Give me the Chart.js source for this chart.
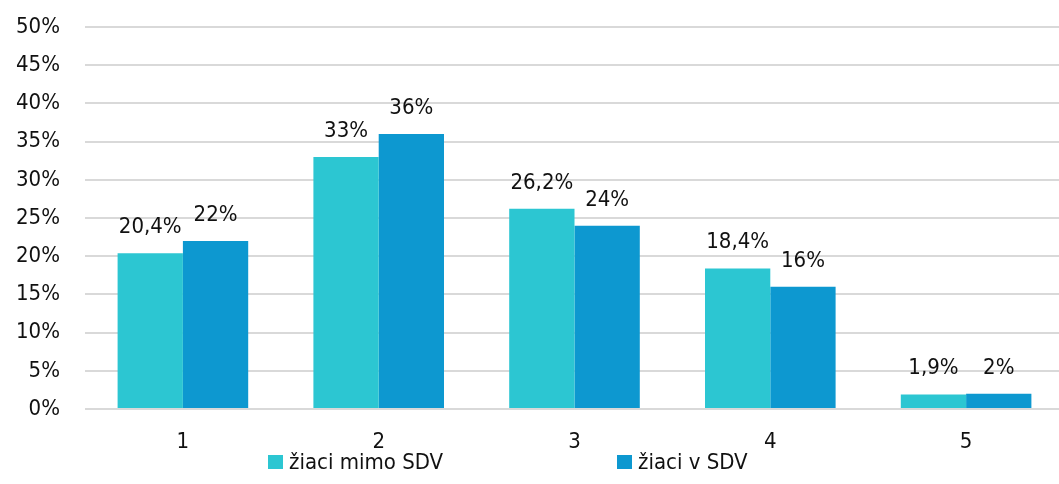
<!DOCTYPE html>
<html>
<head>
<meta charset="utf-8">
<script src="https://cdn.jsdelivr.net/npm/chart.js@4/dist/chart.umd.min.js"></script>
<style>
  html, body { margin: 0; padding: 0; background: #fff; overflow: hidden; }
  #wrap { position: relative; width: 1059px; height: 484px; overflow: hidden; }
  #chart { display: block; }
  #legend {
    position: absolute; left: 0; top: 449px; width: 1059px; height: 30px;
    font-family: "DejaVu Sans Condensed", Roboto, sans-serif;
    font-size: 22px; color: #111;
  }
  .item { position: absolute; top: 0; display: flex; align-items: center; }
  .box { width: 15px; height: 14px; margin-right: 6px; }
</style>
</head>
<body>
<div id="wrap">
  <canvas id="chart" width="1064" height="484"></canvas>
  <div id="legend"></div>
</div>
<script>
const categories = ["1", "2", "3", "4", "5"];
const seriesNames = ["žiaci mimo SDV", "žiaci v SDV"];
const outsideValues = [20.4, 33, 26.2, 18.4, 1.9];
const insideValues = [22, 36, 24, 16, 2];
const colors = ["#2cc6d2", "#0d98d0"];
const yTicks = [0, 5, 10, 15, 20, 25, 30, 35, 40, 45, 50];

const FONT = '"DejaVu Sans Condensed", Roboto, sans-serif';

function fmt(v) {
  return String(v).replace(".", ",") + "%";
}

// value labels above each bar
const valueLabels = {
  id: "valueLabels",
  afterDatasetsDraw(chart) {
    const ctx = chart.ctx;
    ctx.save();
    ctx.font = "22px " + FONT;
    ctx.fillStyle = "#111";
    ctx.textAlign = "center";
    ctx.textBaseline = "alphabetic";
    chart.data.datasets.forEach((ds, i) => {
      chart.getDatasetMeta(i).data.forEach((bar, j) => {
        ctx.fillText(fmt(ds.data[j]), bar.x, bar.y - 20);
      });
    });
    ctx.restore();
  }
};

const chart = new Chart(document.getElementById("chart"), {
  type: "bar",
  data: {
    labels: categories,
    datasets: [
      { label: seriesNames[0], data: outsideValues, backgroundColor: colors[0] },
      { label: seriesNames[1], data: insideValues, backgroundColor: colors[1] }
    ]
  },
  options: {
    responsive: false,
    animation: false,
    datasets: { bar: { categoryPercentage: 0.667, barPercentage: 1 } },
    layout: { padding: { top: 27, right: 0, left: 0, bottom: 13 } },
    plugins: {
      legend: { display: false },
      tooltip: { enabled: false }
    },
    scales: {
      x: {
        grid: { display: false },
        border: { display: false },
        ticks: { color: "#111", font: { family: FONT, size: 22 }, padding: 12 },
        afterFit(axis) { axis.height = 62; }
      },
      y: {
        min: 0,
        max: 50,
        afterBuildTicks(axis) { axis.ticks = yTicks.map(v => ({ value: v })); },
        afterFit(axis) {
          axis.width = 85;
          axis.paddingTop = 0;
          axis.paddingBottom = 0;
        },
        grid: { color: "#d9d9d9", lineWidth: 2, drawTicks: false },
        border: { display: false },
        ticks: {
          color: "#111",
          font: { family: FONT, size: 22 },
          padding: 25,
          callback: v => v + "%"
        }
      }
    }
  },
  plugins: [valueLabels]
});

// legend below the chart
const legend = document.getElementById("legend");
const legendX = [268, 617];
seriesNames.forEach((name, i) => {
  const item = document.createElement("div");
  item.className = "item";
  item.style.left = legendX[i] + "px";
  item.innerHTML = `<span class="box" style="background:${colors[i]}"></span><span>${name}</span>`;
  legend.appendChild(item);
});
</script>
</body>
</html>
